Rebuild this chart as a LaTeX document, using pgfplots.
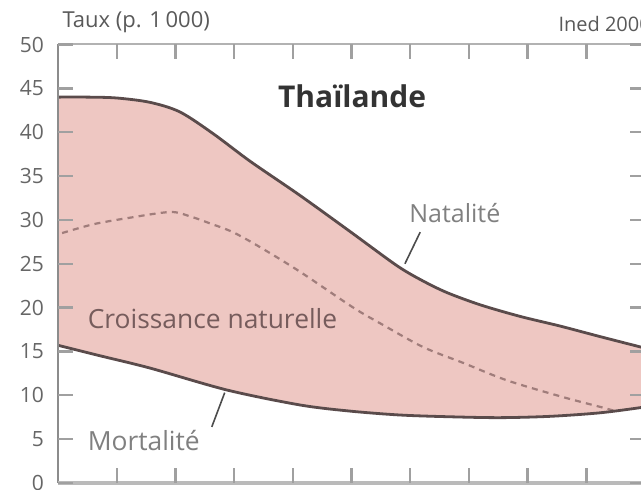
\documentclass[border=0pt]{standalone}
\usepackage{fontspec}
\setmainfont{Open Sans}
\usepackage{pgfplots}
\pgfplotsset{compat=1.18}
\definecolor{pinkfill}{RGB}{238,199,194}
\definecolor{darkline}{RGB}{90,75,75}
\definecolor{dashcol}{RGB}{160,125,123}
\definecolor{tickgray}{RGB}{160,160,160}
\begin{document}
\begin{tikzpicture}
\begin{scope}
\clip (0,0) rectangle (320.5pt,245pt);
\begin{axis}[
  at={(29pt,3.5pt)}, anchor=south west,
  scale only axis, width=293.5pt, height=219.25pt,
  xmin=0, xmax=10, ymin=0, ymax=50,
  xtick={1,2,...,9}, xticklabels={},
  ytick={0,5,...,50},
  yticklabel pos=left,
  tick align=inside,
  major tick length=7.5pt,
  every tick/.style={tickgray, line width=1.2pt},
  axis line style={draw=none},
  axis on top=true,
  clip=false,
  /pgf/number format/assume math mode=true,
  yticklabel style={font=\fontsize{10.5}{11}\selectfont, text=black!60, xshift=-3.5pt},
]
\addplot[fill=pinkfill, draw=none, smooth, tension=0.5] coordinates {
(0,44.0) (0.5,44.0) (1.0,43.9) (1.57,43.4) (2.08,42.3) (2.65,39.8) (3.27,36.7) (4.12,32.8) (4.97,28.7) (5.77,24.8) (6.2,23.1) (6.63,21.7) (7.2,20.3) (7.87,19.0) (8.55,17.9) (9.23,16.7) (9.93,15.5) (10,15.4)
(10,8.7) (9.93,8.6) (9.23,8.0) (8.38,7.6) (7.53,7.45) (6.68,7.55) (5.83,7.75) (4.97,8.2) (4.12,8.9) (2.88,10.6) (1.57,13.1) (0.72,14.5) (0,15.7)
} -- cycle;
\addplot[dashcol, line width=1.1pt, dash pattern=on 3pt off 2.6pt, smooth, tension=0.5] coordinates {
(0.07,28.5) (0.6,29.5) (1.18,30.2) (1.91,30.9) (2.25,30.4) (2.59,29.6) (2.98,28.6) (3.44,26.9) (4.12,24.1) (5.03,20.0) (5.49,18.2) (6.22,15.5) (6.9,13.7) (7.65,11.7) (8.6,9.8) (9.28,8.6) (9.49,8.2)
};
\addplot[darkline, line width=1.4pt, smooth, tension=0.5] coordinates {
(0,44.0) (0.5,44.0) (1.0,43.9) (1.57,43.4) (2.08,42.3) (2.65,39.8) (3.27,36.7) (4.12,32.8) (4.97,28.7) (5.77,24.8) (6.2,23.1) (6.63,21.7) (7.2,20.3) (7.87,19.0) (8.55,17.9) (9.23,16.7) (9.93,15.5) (10,15.4)
};
\addplot[darkline, line width=1.4pt, smooth, tension=0.5] coordinates {
(0,15.7) (0.72,14.5) (1.57,13.1) (2.88,10.6) (4.12,8.9) (4.97,8.2) (5.83,7.75) (6.68,7.55) (7.53,7.45) (8.38,7.6) (9.23,8.0) (9.93,8.6) (10,8.7)
};
% axis frame
\draw[black!45, line width=1pt] (rel axis cs:0,0) -- (rel axis cs:0,1);
\draw[black!30, line width=1pt] (rel axis cs:0,1) -- (rel axis cs:1,1);
\draw[black!27, line width=2pt] (rel axis cs:0,0) -- (rel axis cs:1,0);
\draw[black!45, line width=1pt] (rel axis cs:1,0) -- (rel axis cs:1,1);
% pointers
\draw[black!70, line width=0.8pt] (axis cs:6.17,28.6) -- (axis cs:5.91,25.0);
\draw[black!70, line width=0.8pt] (axis cs:2.62,6.4) -- (axis cs:2.84,10.3);
% labels
\node[font=\bfseries\fontsize{15}{17}\selectfont, text=black!80] at (axis cs:5.01,44.1) {Thaïlande};
\node[font=\fontsize{12.5}{14}\selectfont, text=black!50] at (axis cs:6.76,30.8) {Natalité};
\node[anchor=west, inner sep=0pt, font=\fontsize{13.2}{15}\selectfont, text={rgb,255:red,118;green,92;blue,92}] at (axis cs:0.5,18.8) {Croissance naturelle};
\node[anchor=west, inner sep=0pt, font=\fontsize{13.2}{15}\selectfont, text=black!50] at (axis cs:0.5,4.9) {Mortalité};
\node[anchor=west, inner sep=0pt, font=\fontsize{11}{12}\selectfont, text=black!65] at (axis cs:0.07,52.6) {Taux (p. 1\,000)};
\node[anchor=west, inner sep=0pt, font=\fontsize{10}{11}\selectfont, text=black!65] at (axis cs:8.52,52.3) {Ined 2000};
\end{axis}
\end{scope}
\pgfresetboundingbox
\useasboundingbox (0,0) rectangle (320.5pt,245pt);
\end{tikzpicture}
\end{document}
